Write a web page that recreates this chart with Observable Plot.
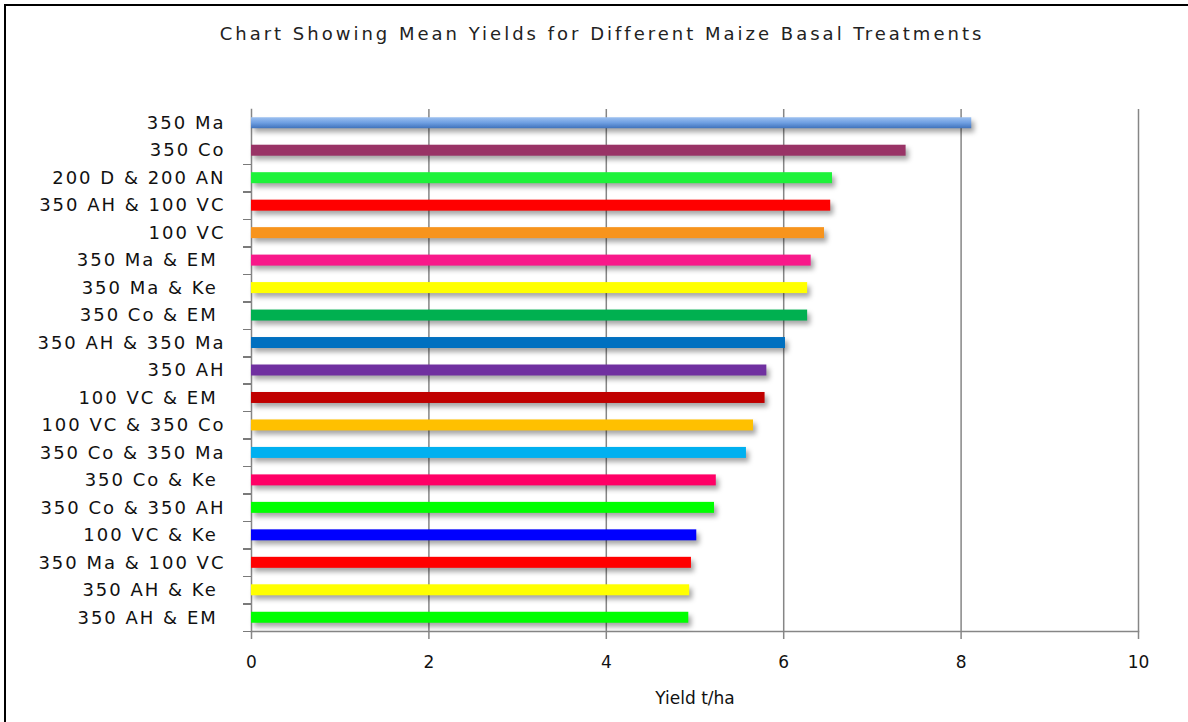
<!DOCTYPE html>
<html>
<head>
<meta charset="utf-8">
<script src="https://cdn.jsdelivr.net/npm/d3@7"></script>
<script src="https://cdn.jsdelivr.net/npm/@observablehq/plot@0.6"></script>
<style>
  html, body { margin: 0; padding: 0; background: #fff; }
  #wrap { position: relative; width: 1188px; height: 722px; overflow: hidden; background: #fff; }
  #frame { position: absolute; left: 4px; top: 4px; right: -10px; bottom: -10px; border-left: 2px solid #000; border-top: 2px solid #000; }
  #title { position: absolute; left: 0; top: 23px; width: 1204px; text-align: center; font-family: "DejaVu Sans", sans-serif; font-size: 18px; letter-spacing: 3px; color: #222; }
  #chart { position: absolute; left: 0; top: 0; }
  #chart svg text { white-space: pre; }
  #chart g[aria-label="bar"] rect { filter: drop-shadow(3px 4px 2.5px rgba(0,0,0,0.35)); }
</style>
</head>
<body>
<div id="wrap">
  <div id="frame"></div>
  <div id="title">Chart Showing Mean Yields for Different Maize Basal Treatments</div>
  <div id="chart"></div>
</div>
<script>
const treatments = [
  "350 Ma", "350 Co", "200 D & 200 AN", "350 AH & 100 VC", "100 VC",
  "350 Ma & EM ", "350 Ma & Ke ", "350 Co & EM ", "350 AH & 350 Ma", "350 AH",
  "100 VC & EM ", "100 VC & 350 Co", "350 Co & 350 Ma", "350 Co & Ke ", "350 Co & 350 AH",
  "100 VC & Ke ", "350 Ma & 100 VC", "350 AH & Ke ", "350 AH & EM "
];
const yields = [
  8.12, 7.38, 6.55, 6.53, 6.46,
  6.31, 6.27, 6.27, 6.02, 5.81,
  5.79, 5.66, 5.58, 5.24, 5.22,
  5.02, 4.96, 4.94, 4.93
];
const barColors = [
  "url(#grad350Ma)", "#993366", "#1ef23a", "#ff0000", "#f7941d",
  "#f8188a", "#ffff00", "#00b050", "#0070c0", "#7030a0",
  "#c00000", "#ffc000", "#00b0f0", "#ff0066", "#00ff00",
  "#0000ff", "#ff0000", "#ffff00", "#00ff00"
];
const xTicks = [0, 2, 4, 6, 8, 10];
const xLabel = "Yield t/ha";

const data = treatments.map((t, i) => ({name: t, value: yields[i], color: barColors[i]}));

const W = 1188, H = 722, mt = 109, mb = 91, ml = 251, mr = 50;
const step = (H - mt - mb) / treatments.length;
const grey = "#868686";

const svg = Plot.plot({
  width: W, height: H,
  marginTop: mt, marginBottom: mb, marginLeft: ml, marginRight: mr,
  style: {fontFamily: "DejaVu Sans, sans-serif", background: "transparent", overflow: "visible"},
  x: {domain: [0, 10]},
  y: {domain: treatments, paddingInner: 0.6, paddingOuter: 0.3, round: false},
  color: {type: "identity"},
  marks: [
    Plot.gridX(xTicks.filter(d => d > 0), {stroke: grey, strokeOpacity: 1, strokeWidth: 1.5}),
    Plot.frame({anchor: "bottom", stroke: grey, strokeWidth: 1.5}),
    Plot.frame({anchor: "left", stroke: grey, strokeWidth: 1.5}),
    Plot.axisX({ticks: xTicks, tickSize: 8, tickPadding: 16, stroke: grey, strokeWidth: 1.5,
      fill: "#111", fontSize: 17, letterSpacing: 1, tickFormat: d => String(d),
      label: xLabel, labelAnchor: "center", labelArrow: "none", labelOffset: 72}),
    Plot.axisY({tickSize: 0, tickPadding: 26, fontSize: 18, fill: "#111", label: null}),
    Plot.tickY(treatments.slice(1), {y: d => d, dy: step / 2, stroke: "#7a7a7a", strokeWidth: 1.5,
      shapeRendering: "crispEdges", insetLeft: -8, insetRight: W - ml - mr}),
    Plot.barX(data, {x: "value", y: "name", fill: "color"})
  ]
});

svg.insertAdjacentHTML("afterbegin",
  '<defs><linearGradient id="grad350Ma" x1="0" y1="0" x2="0" y2="1">' +
  '<stop offset="0" stop-color="#9cc0f0"/><stop offset="0.5" stop-color="#6f9fe2"/>' +
  '<stop offset="1" stop-color="#3f72bb"/></linearGradient></defs>');
svg.querySelectorAll('g[aria-label="y-axis tick label"] text').forEach(t => {
  t.style.letterSpacing = "2px";
});
document.getElementById("chart").appendChild(svg);
</script>
</body>
</html>
